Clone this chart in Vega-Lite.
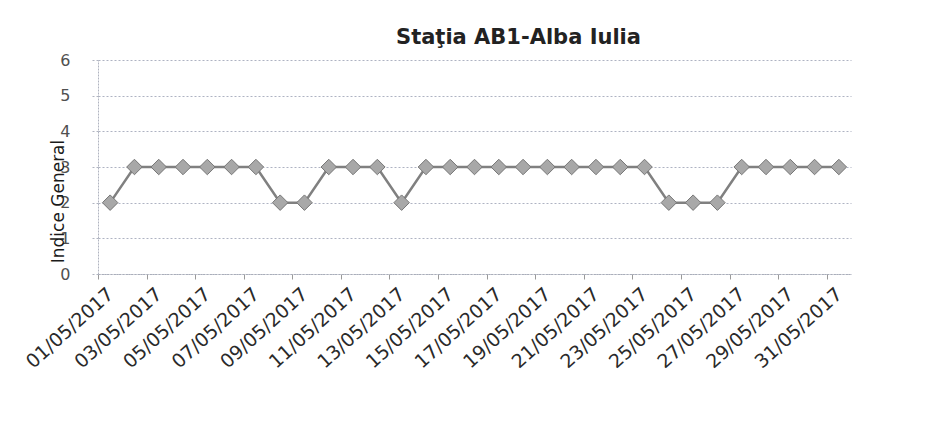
{
  "$schema": "https://vega.github.io/schema/vega-lite/v6.json",
  "autosize": "none",
  "width": 753,
  "height": 214,
  "padding": {"left": 98, "top": 60, "right": 75, "bottom": 156},
  "background": "white",
  "title": {
    "text": "Staţia AB1-Alba Iulia",
    "font": "DejaVu Sans",
    "fontSize": 21,
    "fontWeight": "bold",
    "color": "#222222",
    "anchor": "middle",
    "frame": "group",
    "baseline": "alphabetic",
    "offset": 17,
    "dx": 44,
    "dy": 30
  },
  "data": {
    "values": [
      {"data": "01/05/2017", "indice": 2},
      {"data": "02/05/2017", "indice": 3},
      {"data": "03/05/2017", "indice": 3},
      {"data": "04/05/2017", "indice": 3},
      {"data": "05/05/2017", "indice": 3},
      {"data": "06/05/2017", "indice": 3},
      {"data": "07/05/2017", "indice": 3},
      {"data": "08/05/2017", "indice": 2},
      {"data": "09/05/2017", "indice": 2},
      {"data": "10/05/2017", "indice": 3},
      {"data": "11/05/2017", "indice": 3},
      {"data": "12/05/2017", "indice": 3},
      {"data": "13/05/2017", "indice": 2},
      {"data": "14/05/2017", "indice": 3},
      {"data": "15/05/2017", "indice": 3},
      {"data": "16/05/2017", "indice": 3},
      {"data": "17/05/2017", "indice": 3},
      {"data": "18/05/2017", "indice": 3},
      {"data": "19/05/2017", "indice": 3},
      {"data": "20/05/2017", "indice": 3},
      {"data": "21/05/2017", "indice": 3},
      {"data": "22/05/2017", "indice": 3},
      {"data": "23/05/2017", "indice": 3},
      {"data": "24/05/2017", "indice": 2},
      {"data": "25/05/2017", "indice": 2},
      {"data": "26/05/2017", "indice": 2},
      {"data": "27/05/2017", "indice": 3},
      {"data": "28/05/2017", "indice": 3},
      {"data": "29/05/2017", "indice": 3},
      {"data": "30/05/2017", "indice": 3},
      {"data": "31/05/2017", "indice": 3}
    ]
  },
  "encoding": {
    "x": {
      "field": "data",
      "type": "ordinal",
      "bandPosition": 0.5,
      "scale": {"type": "band", "paddingInner": 0, "paddingOuter": 0},
      "axis": {
        "title": null,
        "values": ["01/05/2017","03/05/2017","05/05/2017","07/05/2017","09/05/2017","11/05/2017","13/05/2017","15/05/2017","17/05/2017","19/05/2017","21/05/2017","23/05/2017","25/05/2017","27/05/2017","29/05/2017","31/05/2017"],
        "tickOffset": -12.15,
        "labelOffset": 12.15,
        "labelAngle": -42,
        "labelAlign": "right",
        "labelBaseline": "middle",
        "labelFont": "DejaVu Sans",
        "labelFontSize": 19,
        "labelColor": "#2a2a2a",
        "labelPadding": 12,
        "labelOverlap": false,
        "tickSize": 5,
        "tickColor": "#9a9a9a",
        "domainColor": "#a9adb8",
        "domainDash": [2, 1],
        "grid": false
      }
    },
    "y": {
      "field": "indice",
      "type": "quantitative",
      "scale": {"domain": [0, 6], "nice": false},
      "axis": {
        "title": "Indice General",
        "titleFont": "DejaVu Sans",
        "titleFontSize": 17,
        "titleFontWeight": "normal",
        "titleColor": "#1a1a1a",
        "titleAngle": -90,
        "titleAlign": "center",
        "titleBaseline": "alphabetic",
        "titleX": -35,
        "titleY": 141,
        "values": [0, 1, 2, 3, 4, 5, 6],
        "labelFont": "DejaVu Sans",
        "labelFontSize": 16,
        "labelColor": "#505050",
        "labelPadding": 20,
        "tickSize": 8,
        "tickColor": "#b0b4c0",
        "tickDash": [2, 2],
        "domainColor": "#b0b4c0",
        "domainDash": [2, 1],
        "grid": true,
        "gridColor": "#aeb3c2",
        "gridDash": [2, 2],
        "gridWidth": 1
      }
    }
  },
  "layer": [
    {
      "mark": {"type": "line", "color": "#808080", "strokeWidth": 2.5}
    },
    {
      "mark": {
        "type": "point",
        "shape": "diamond",
        "filled": true,
        "size": 240,
        "color": "#a8a8a8",
        "stroke": "#777777",
        "strokeWidth": 1,
        "opacity": 1
      }
    }
  ],
  "config": {
    "view": {"stroke": null}
  }
}
